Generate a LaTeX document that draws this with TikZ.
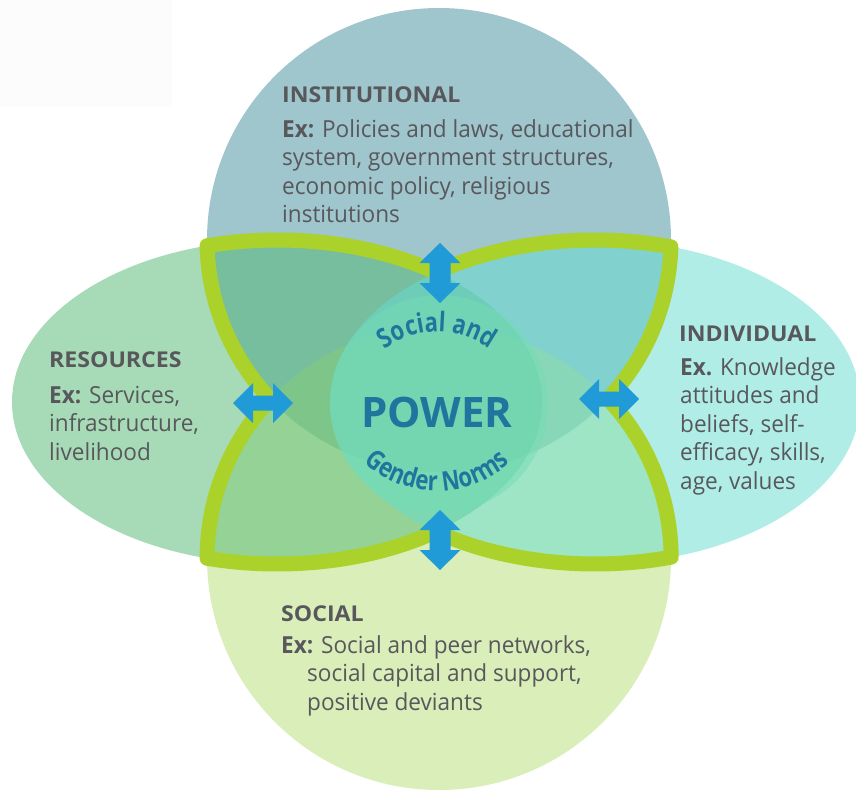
\documentclass[tikz,border=0pt]{standalone}
\usepackage{fontspec}
\setmainfont{Open Sans}
\newfontfamily\bodyfamily{Open Sans}[FakeStretch=0.96]
\newfontfamily\headfamily{Open Sans}[FakeStretch=1.06]
\newfontfamily\arcfamily{Open Sans}[FakeStretch=0.82]
\usetikzlibrary{decorations.text}

% palette
\definecolor{instfill}{RGB}{65,141,157}
\definecolor{resfill}{RGB}{81,185,115}
\definecolor{indfill}{RGB}{101,221,209}
\definecolor{socfill}{RGB}{181,223,117}
\definecolor{corefill}{RGB}{118,220,180}
\definecolor{rimgreen}{RGB}{170,210,42}
\definecolor{arrowblue}{RGB}{33,155,216}
\definecolor{bodygrey}{RGB}{88,88,92}
\definecolor{powerblue}{RGB}{30,118,158}

\newcommand\headfont{\headfamily\fontsize{21.8}{26}\selectfont\bfseries}
\newcommand\bodyfont{\bodyfamily\fontsize{23.5}{28.5}\selectfont}
\newcommand\arcfont{\arcfamily\fontsize{27}{27}\selectfont\bfseries}

\tikzset{
  sphere/.style={fill opacity=0.5},
  rim/.style={draw=rimgreen, line width=15pt, line join=round, line cap=butt},
  head/.style={anchor=base west, inner sep=0pt, font=\headfont, text=bodygrey},
  % multi-line blocks are placed by the baseline of their last line
  body/.style={anchor=base west, inner sep=0pt, align=left, font=\bodyfont, text=bodygrey},
  arclabel/.style={decorate, decoration={text along path, text align=center,
    text color=powerblue}},
  pics/vblock/.style={code={
    \fill[arrowblue] (0,-30) -- (20.5,-10) -- (10.5,-10) -- (10.5,10) -- (20.5,10)
      -- (0,30) -- (-20.5,10) -- (-10.5,10) -- (-10.5,-10) -- (-20.5,-10) -- cycle;}},
  pics/hblock/.style={code={
    \fill[arrowblue] (-30,0) -- (-10,-20) -- (-10,-7.5) -- (10,-7.5) -- (10,-20)
      -- (30,0) -- (10,20) -- (10,7.5) -- (-10,7.5) -- (-10,20) -- cycle;}},
}

\begin{document}
\begin{tikzpicture}[x=1pt, y=-1pt]
\useasboundingbox (0,0) rectangle (856,792);
\fill[white] (0,0) rectangle (856,792);
\fill[black!1] (0,0) rectangle (172,107);

% the four overlapping domains
\fill[instfill, sphere] (439,240) circle[radius=232];
\fill[socfill, sphere] (439,558) circle[radius=232];
\fill[resfill, sphere] (277,402) ellipse[x radius=265, y radius=162];
\fill[indfill, sphere] (595,402) ellipse[x radius=265, y radius=162];

% central disc
\fill[corefill, sphere] (439,404) circle[radius=109];

% green rims of the four overlap petals
\draw[rim] ({277+265*cos(-52)},{402+162*sin(-52)})
  arc[start angle=-52, end angle=-105.3, x radius=265, y radius=162]
  arc[start angle=178.6, end angle=135.4, radius=232];
\draw[rim] ({595+265*cos(-125.8)},{402+162*sin(-125.8)})
  arc[start angle=-125.8, end angle=-73.36, x radius=265, y radius=162]
  arc[start angle=1.68, end angle=43.25, radius=232];
\draw[rim] ({277+265*cos(52)},{402+162*sin(52)})
  arc[start angle=52, end angle=105.3, x radius=265, y radius=162]
  arc[start angle=180, end angle=221.9, radius=232];
\draw[rim] ({595+265*cos(125.8)},{402+162*sin(125.8)})
  arc[start angle=125.8, end angle=73.3, x radius=265, y radius=162]
  arc[start angle=-0.2, end angle=-43.25, radius=232];

% two-way arrows
\pic (uparrow) at (440,273) {vblock};
\pic (downarrow) at (440,540) {vblock};
\pic (leftarrow) at (263,403) {hblock};
\pic (rightarrow) at (609,399) {hblock};

% centre labels
\node[font=\fontsize{42}{42}\selectfont\bfseries, text=powerblue, anchor=base, inner sep=0pt]
  (power) at (437,427) {POWER};
\path[arclabel, decoration={text={|\arcfont|Social and}}]
  (349,420) arc[start angle=180, end angle=360, radius=88];
\path[arclabel, decoration={text={|\arcfont|Gender Norms}}]
  (330,384) arc[start angle=180, end angle=0, radius=107];

% domain texts
\node[head] (insthead) at (282,102) {INSTITUTIONAL};
\node[body] (insttext) at (282,222.5)
  {\textbf{Ex:} Policies and laws, educational\\system, government structures,\\economic policy, religious\\institutions};

\node[head] (reshead) at (49,367) {RESOURCES};
\node[body] (restext) at (49,460) {\textbf{Ex:} Services,\\infrastructure,\\livelihood};

\node[head] (indhead) at (679,341) {INDIVIDUAL};
\node[body] (indtext) at (680,489)
  {\textbf{Ex.} Knowledge\\attitudes and\\beliefs, self-\\efficacy, skills,\\age, values};

\node[head] (sochead) at (281,621) {SOCIAL};
\node[body] (soctext) at (281,710)
  {\textbf{Ex:} Social and peer networks,\\\hspace*{26pt}social capital and support,\\\hspace*{26pt}positive deviants};
\end{tikzpicture}
\end{document}
